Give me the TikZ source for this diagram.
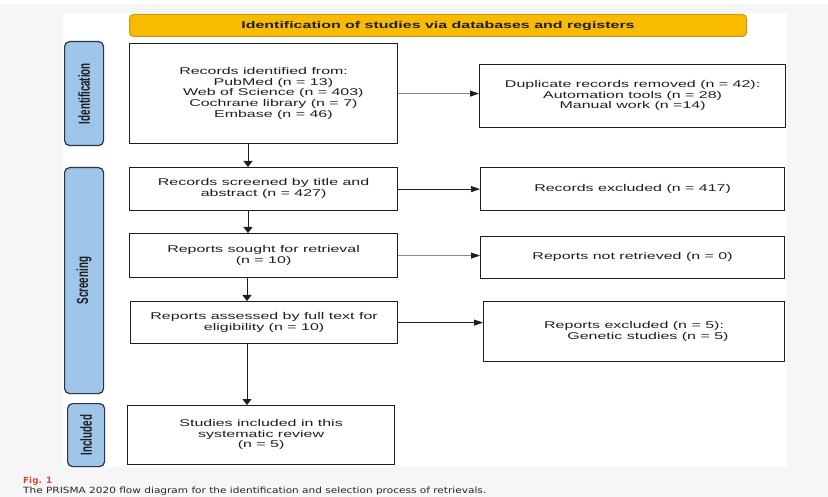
\documentclass[tikz,border=0pt]{standalone}
\usepackage{fontspec}
\setmainfont{Liberation Sans}
\newfontfamily\capfont{DejaVu Sans}
\usetikzlibrary{arrows.meta}
\definecolor{bgc}{HTML}{F6F5F7}
\definecolor{bannerfill}{HTML}{F8BB00}
\definecolor{bannerdraw}{HTML}{C99A10}
\definecolor{sidefill}{HTML}{9FC5E8}
\definecolor{sidedraw}{HTML}{263445}
\definecolor{figred}{HTML}{C8502A}
\definecolor{inkc}{HTML}{1E1E1E}
\newcommand\wtext[1]{\scalebox{1.63}[1]{\begin{tabular}{@{}c@{}}#1\end{tabular}}}
\newcommand\vlabel[1]{\rotatebox{90}{\scalebox{1}[1.63]{\bfseries #1}}}
\begin{document}
\begin{tikzpicture}[x=1pt,y=-1pt,
  font=\fontsize{9.8}{10.7}\selectfont,
  box/.style={draw=inkc, line width=1.2pt, fill=white, inner sep=0pt, anchor=north west, text=inkc},
  side/.style={draw=sidedraw, line width=1.2pt, fill=sidefill, rounded corners=5pt, inner sep=0pt, anchor=north west, text=inkc},
  banner/.style={draw=bannerdraw, line width=1pt, fill=bannerfill, rounded corners=4pt, inner sep=0pt, anchor=north west, text=inkc},
  harr/.style={line width=0.8pt, draw=inkc, -{Triangle[length=9pt,width=6pt,color=inkc]}},
  varr/.style={line width=0.8pt, draw=inkc, -{Triangle[length=6pt,width=9pt,color=inkc]}},
  garr/.style={harr, draw=black!45}
]
\useasboundingbox (0,0) rectangle (828,497);
\fill[bgc] (0,0) rectangle (828,497);
\fill[white] (0,0) rectangle (828,4);
\fill[white] (63,13) rectangle (787,467);

\node[banner, minimum width=617, minimum height=22] (ban) at (129,14)
  {\scalebox{1.63}[1]{\bfseries Identification of studies via databases and registers}};

\node[side, minimum width=39, minimum height=104] (sid) at (64,41) {\vlabel{Identification}};
\node[side, minimum width=39, minimum height=226] (ssc) at (64,167) {\vlabel{Screening}};
\node[side, minimum width=37, minimum height=63] (sin) at (67,403) {\vlabel{Included}};

\node[box, minimum width=268, minimum height=100] (rec) at (129,43)
  {\wtext{Records identified from:\\
  \hspace*{12pt}PubMed (n = 13)\\
  \hspace*{12pt}Web of Science (n = 403)\\
  \hspace*{12pt}Cochrane library (n = 7)\\
  \hspace*{12pt}Embase (n = 46)}};
\node[box, minimum width=306, minimum height=63] (dup) at (479,64)
  {\wtext{Duplicate records removed (n = 42):\\Automation tools (n = 28)\\Manual work (n =14)}};
\node[box, minimum width=268, minimum height=43] (scr) at (129,167)
  {\wtext{Records screened by title and\\abstract (n = 427)}};
\node[box, minimum width=304, minimum height=43] (exc) at (480,167)
  {\wtext{Records excluded (n = 417)}};
\node[box, minimum width=268, minimum height=44] (sou) at (129,233)
  {\wtext{Reports sought for retrieval\\(n = 10)}};
\node[box, minimum width=304, minimum height=42] (nre) at (480,236)
  {\wtext{Reports not retrieved (n = 0)}};
\node[box, minimum width=267, minimum height=42] (ass) at (130,301)
  {\wtext{Reports assessed by full text for\\eligibility (n = 10)}};
\node[box, minimum width=301, minimum height=60] (rex) at (483,301)
  {\wtext{Reports excluded (n = 5):\\\hspace*{17pt}Genetic studies (n = 5)}};
\node[box, minimum width=267, minimum height=59] (stu) at (127,405)
  {\wtext{Studies included in this\\systematic review\\(n = 5)}};

\coordinate (ax) at (248,0);
\coordinate (bx) at (247,0);
\draw[garr] (rec.east) -- (dup.west |- rec.east);
\draw[varr] (rec.south -| ax) -- (scr.north -| ax);
\draw[harr] (scr.east) -- (exc.west |- scr.east);
\draw[varr] (scr.south -| ax) -- (sou.north -| ax);
\draw[garr] (sou.east) -- (nre.west |- sou.east);
\draw[varr] (sou.south -| bx) -- (ass.north -| bx);
\draw[harr] (ass.east) -- (rex.west |- ass.east);
\draw[varr] (ass.south -| bx) -- (stu.north -| bx);

\node[anchor=base west, inner sep=0pt] (fig) at (23,483)
  {\resizebox{29pt}{6.5pt}{\capfont\bfseries\color{figred}Fig. 1}};
\node[anchor=base west, inner sep=0pt, text=black!85] (cap) at (23,493)
  {\resizebox{463pt}{6.5pt}{\capfont The PRISMA 2020 flow diagram for the identification and selection process of retrievals.}};
\end{tikzpicture}
\end{document}
